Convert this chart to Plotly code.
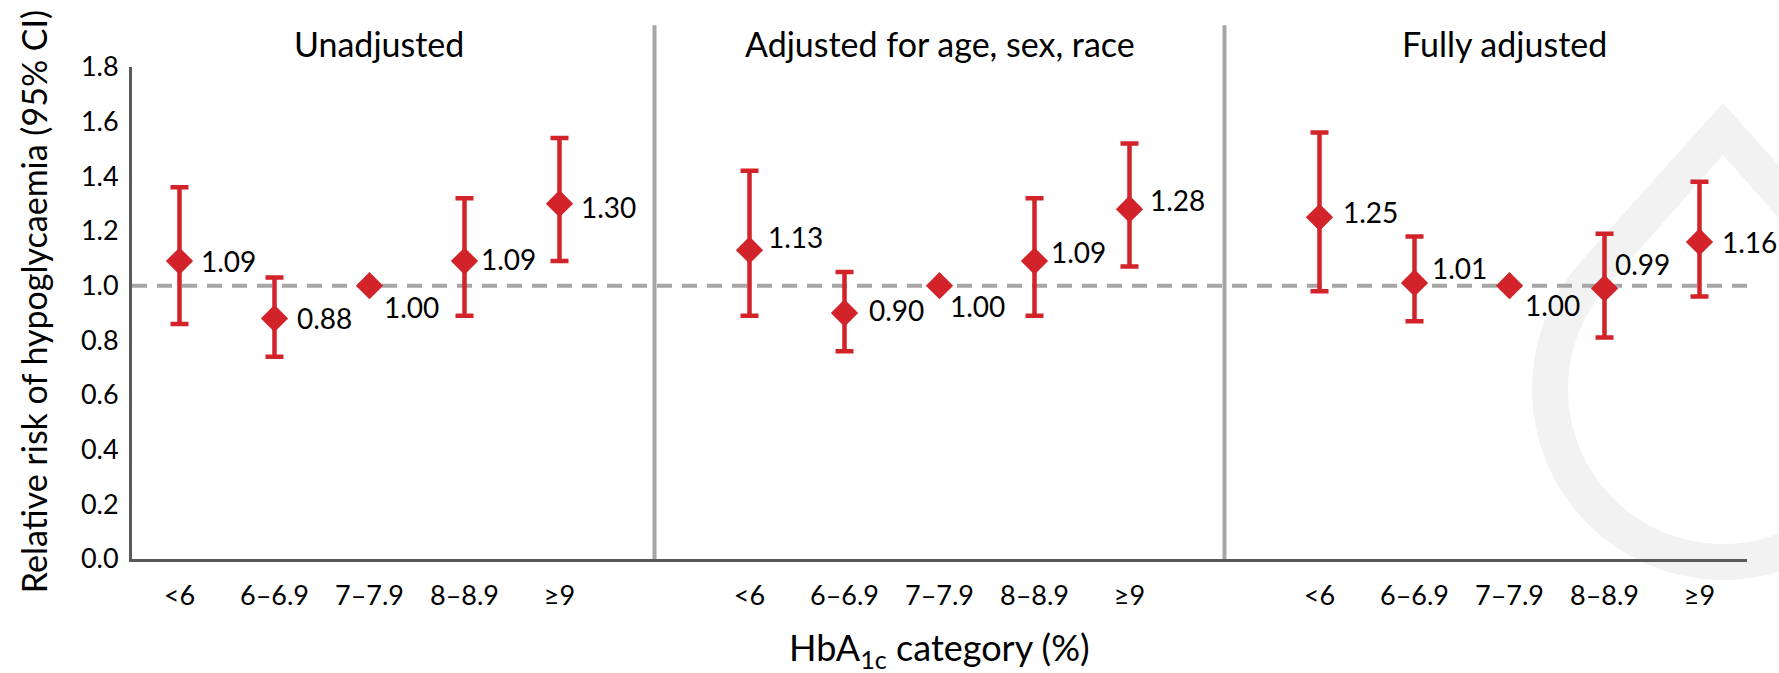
import numpy as np
import plotly.graph_objects as go

# ---------------- data ----------------
categories = ["<6", "6–6.9", "7–7.9", "8–8.9", "≥9"]
panels = ["Unadjusted", "Adjusted for age, sex, race", "Fully adjusted"]

rr_unadj = [1.09, 0.88, 1.00, 1.09, 1.30]
lo_unadj = [0.86, 0.74, None, 0.89, 1.09]
hi_unadj = [1.36, 1.03, None, 1.32, 1.54]

rr_demo = [1.13, 0.90, 1.00, 1.09, 1.28]
lo_demo = [0.89, 0.76, None, 0.89, 1.07]
hi_demo = [1.42, 1.05, None, 1.32, 1.52]

rr_full = [1.25, 1.01, 1.00, 0.99, 1.16]
lo_full = [0.98, 0.87, None, 0.81, 0.96]
hi_full = [1.56, 1.18, None, 1.19, 1.38]

y_ticks = [0.0, 0.2, 0.4, 0.6, 0.8, 1.0, 1.2, 1.4, 1.6, 1.8]
reference_value = 1.0

# label offsets (style only): (xshift px, yshift px)
label_offsets = [
    [(19, 0), (20, 0), (12, -21), (14, 2), (19, -3)],
    [(16, 13), (22, 3), (8, -20), (14, 9), (18, 9)],
    [(21, 5), (15, 15), (13, -19), (8, 24), (20, 0)],
]
title_xshift = [9, 0, -5]

# ---------------- style ----------------
W, H = 1779, 673
ML, MR, MT, MB = 132, 32, 67, 114
RED = "#d2232a"
GRAY = "#a6a6a6"
AXIS = "#595959"
FONT = "Lato"
GAP = 1  # empty category slot between panels

series = [(rr_unadj, lo_unadj, hi_unadj), (rr_demo, lo_demo, hi_demo), (rr_full, lo_full, hi_full)]
n = len(categories)
step = n + GAP

fig = go.Figure()
annotations = []
tickvals, ticktext = [], []
for p, (rr, lo, hi) in enumerate(series):
    xs = [p * step + i for i in range(n)]
    plus = [None if h is None else h - r for r, h in zip(rr, hi)]
    minus = [None if l is None else r - l for r, l in zip(rr, lo)]
    fig.add_trace(go.Scatter(
        x=xs, y=rr, mode="markers",
        marker=dict(symbol="diamond", size=21, color=RED),
        error_y=dict(type="data", symmetric=False, array=plus, arrayminus=minus,
                     color=RED, thickness=4.5, width=9),
        showlegend=False, hoverinfo="skip",
    ))
    tickvals += xs
    ticktext += categories
    for i, (x, r) in enumerate(zip(xs, rr)):
        dx, dy = label_offsets[p][i]
        annotations.append(dict(x=x, y=r, xref="x", yref="y", text=f"{r:.2f}",
                                showarrow=False, xanchor="left", yanchor="middle",
                                xshift=dx, yshift=dy,
                                font=dict(family=FONT, size=28, color="black")))
    annotations.append(dict(x=p * step + (n - 1) / 2, y=1.048, xref="x", yref="paper",
                            text=panels[p], showarrow=False, xanchor="center", yanchor="middle",
                            xshift=title_xshift[p],
                            font=dict(family=FONT, size=34, color="black")))

# axis titles
annotations.append(dict(x=0.5, y=-0.238, xref="paper", yref="paper",
                        text="HbA<sub>1c</sub> category (%)", showarrow=False,
                        xanchor="center", yanchor="bottom",
                        font=dict(family=FONT, size=36, color="black")))
annotations.append(dict(x=-0.061, y=0.523, xref="paper", yref="paper",
                        text="Relative risk of hypoglycaemia (95% CI)", showarrow=False,
                        textangle=-90, xanchor="center", yanchor="middle",
                        font=dict(family=FONT, size=34, color="black")))

# watermark drop (decorative), pixel geometry -> paper fractions
pw, ph = W - ML - MR, H - MT - MB
def to_paper(px, py):
    return (px - ML) / pw, (H - MB - py) / ph

def drop_path(cx, cy, R, apex_y):
    D = cy - apex_y
    th = np.arccos(R / D)  # angle of tangent point from the upward direction
    angs = np.linspace(th, 2 * np.pi - th, 80)
    pts = [(cx, apex_y)] + [(cx + R * np.sin(a), cy - R * np.cos(a)) for a in angs]
    s = ""
    for k, (px, py) in enumerate(pts):
        X, Y = to_paper(px, py)
        s += ("M" if k == 0 else "L") + f"{X:.5f},{Y:.5f} "
    return s + "Z "

shapes = [dict(type="path", xref="paper", yref="paper",
               path=drop_path(1723, 389, 191, 103) + drop_path(1723, 389, 155, 155),
               fillcolor="#f2f2f2", fillrule="evenodd", line=dict(width=0), layer="below")]

for p in range(1, len(panels)):
    xd = p * step - GAP + (GAP - 1) / 2
    shapes.append(dict(type="line", xref="x", yref="paper", x0=xd, x1=xd, y0=0, y1=1.085,
                       line=dict(color=GRAY, width=4), layer="below"))
shapes.append(dict(type="line", xref="paper", yref="y", x0=0, x1=1,
                   y0=reference_value, y1=reference_value,
                   line=dict(color=GRAY, width=4, dash="15px,10px"), layer="below"))

fig.update_layout(
    width=W, height=H,
    margin=dict(l=ML, r=MR, t=MT, b=MB),
    paper_bgcolor="white", plot_bgcolor="rgba(0,0,0,0)",
    font=dict(family=FONT, color="black"),
    shapes=shapes, annotations=annotations,
    xaxis=dict(range=[-0.5, len(panels) * step - GAP - 0.5], tickvals=tickvals, ticktext=ticktext,
               showline=True, linecolor=AXIS, linewidth=3, ticks="", showgrid=False,
               zeroline=False, tickfont=dict(family=FONT, size=27, color="black"),
               ticklabelstandoff=11),
    yaxis=dict(range=[0, 1.8], tickvals=y_ticks, tickformat=".1f",
               showline=True, linecolor=AXIS, linewidth=3, ticks="", showgrid=False,
               zeroline=False, tickfont=dict(family=FONT, size=27, color="black"),
               ticklabelstandoff=5),
)

fig.write_html("out.html", config={"displayModeBar": False},
               post_script="document.body.style.margin='0';document.body.style.overflow='hidden';")
